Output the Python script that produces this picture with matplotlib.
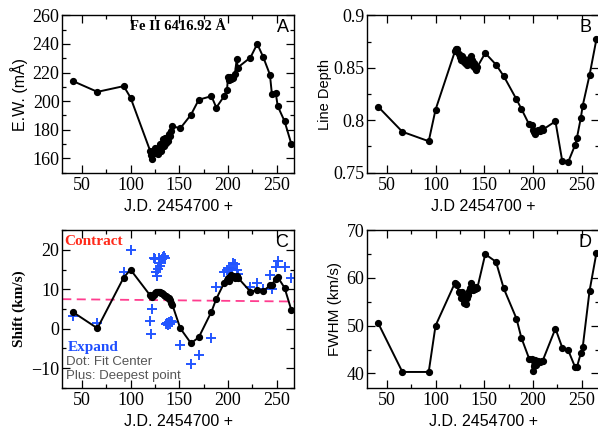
import matplotlib
matplotlib.use("Agg")
import matplotlib.pyplot as plt
from matplotlib.ticker import MultipleLocator, FuncFormatter

# Observation dates (J.D. - 2454700)
jd = [41, 66, 93, 100, 120, 121, 122, 124, 125, 126, 127, 128, 129, 130, 131,
      132, 133, 134, 135, 136, 137, 138, 139, 140, 141, 143, 151, 162, 170,
      183, 188, 196, 199, 200, 201, 202, 203, 205, 207, 209, 210, 223, 230,
      236, 243, 245, 249, 251, 258, 265]

# Equivalent width (mA)
ew = [214, 206.5, 210.5, 202.5, 165.5, 162.5, 159.5, 163.5, 167.5, 164, 166.5,
      163, 167, 170, 165.5, 168, 173.5, 168.5, 174, 170.5, 174.5, 172, 177,
      175.5, 179, 182.5, 181, 190.5, 201, 203.5, 195.5, 203.5, 208, 217, 215,
      217, 215.5, 216, 219, 229.5, 223.5, 230.5, 240, 231, 218.5, 205, 205.5,
      196.5, 186, 170]

# Line depth
depth = [0.813, 0.789, 0.780, 0.810, 0.866, 0.868, 0.868, 0.863, 0.860, 0.857,
         0.861, 0.856, 0.858, 0.855, 0.857, 0.853, 0.856, 0.855, 0.859, 0.861,
         0.857, 0.852, 0.855, 0.850, 0.848, 0.851, 0.864, 0.853, 0.842, 0.820,
         0.811, 0.796, 0.795, 0.791, 0.789, 0.787, 0.790, 0.791, 0.790, 0.793,
         0.791, 0.799, 0.761, 0.760, 0.776, 0.783, 0.802, 0.814, 0.843, 0.877]

# Line shift from the fitted centre (km/s)
shift_fit = [4.2, 0.1, 13.0, 15.0, 8.5, 8.2, 8.0, 8.5, 9.0, 9.2, 9.3, 9.4, 9.3,
             9.2, 9.0, 9.1, 8.8, 8.6, 8.4, 8.2, 8.0, 7.8, 7.9, 7.2, 6.5, 6.0,
             0.1, -3.7, -2.2, 4.3, 7.6, 11.6, 12.3, 13.0, 12.1, 13.2, 13.6,
             13.3, 13.0, 13.3, 13.0, 9.4, 9.8, 9.5, 11.0, 11.2, 12.6, 13.1,
             10.4, 4.7]

# Line shift from the deepest point of the profile (km/s)
shift_deep = [3.3, 1.4, 14.4, 20.0, 1.9, -1.3, 5.1, 18.0, 17.6, 14.5, 13.5,
              15.2, 18.0, 16.0, 16.8, 17.8, 18.3, 18.5, 18.0, 1.1, 1.5, 1.0,
              1.8, 1.3, 2.0, 1.6, -4.2, -9.0, -6.8, -2.3, 10.7, 14.5, 15.0,
              14.5, 15.5, 12.5, 15.2, 16.6, 16.5, 14.8, 13.8, 10.5, 11.6, 10.1,
              13.6, 10.0, 15.6, 17.2, 15.6, 13.0]

# Systemic velocity level (km/s) at the start and end of the time range
systemic_jd = [30, 268]
systemic = [7.5, 6.9]

# Full width at half maximum (km/s)
fwhm = [50.6, 40.3, 40.3, 50.0, 59.0, 58.7, 58.5, 57.0, 56.8, 55.8, 57.0, 56.2,
        54.8, 55.5, 54.6, 55.8, 56.5, 57.3, 57.8, 59.0, 58.0, 57.5, 58.0, 57.6,
        58.2, 58.0, 65.0, 63.4, 57.8, 51.5, 47.5, 43.1, 43.0, 40.4, 41.5, 42.8,
        41.8, 42.5, 42.4, 42.6, 42.7, 49.4, 45.4, 44.9, 41.4, 41.3, 44.2, 45.5,
        57.3, 65.2]

SERIF = "Liberation Serif"
SANS = "Liberation Sans"

fig = plt.figure(figsize=(5.98, 4.30), dpi=100)
W, H = 598.0, 430.0


def make_axes(left_px, top_px):
    w_px, h_px = 232.0, 157.4
    return fig.add_axes([left_px / W, (H - top_px - h_px) / H, w_px / W, h_px / H])


axA = make_axes(62.3, 15.3)
axB = make_axes(367.3, 15.3)
axC = make_axes(62.3, 230.3)
axD = make_axes(367.3, 230.3)


def style(ax, ylim, ymaj, ymin, yfmt=None):
    ax.set_xlim(30, 268)
    ax.set_ylim(*ylim)
    ax.xaxis.set_major_locator(MultipleLocator(50))
    ax.xaxis.set_minor_locator(MultipleLocator(25))
    ax.yaxis.set_major_locator(MultipleLocator(ymaj))
    ax.yaxis.set_minor_locator(MultipleLocator(ymin))
    ax.tick_params(which="both", direction="in", top=True, right=True,
                   width=0.9, colors="black")
    ax.tick_params(which="major", length=6, labelsize=13)
    ax.tick_params(axis="y", which="major", pad=2)
    ax.tick_params(axis="x", which="major", pad=3)
    ax.tick_params(which="minor", length=3)
    if yfmt is not None:
        ax.yaxis.set_major_formatter(yfmt)
    for lab in ax.get_xticklabels() + ax.get_yticklabels():
        lab.set_fontfamily(SERIF)
    for sp in ax.spines.values():
        sp.set_linewidth(1.0)


line_kw = dict(color="black", lw=1.4, marker="o", ms=4.2, mec="black",
               mfc="black", zorder=3)
label_kw = dict(fontfamily=SANS, fontsize=11.5)

# Panel A: equivalent width
axA.plot(jd, ew, **line_kw)
style(axA, (150, 260), 20, 10)
axA.set_ylabel("E.W. (mÅ)", labelpad=3, **label_kw)
axA.set_xlabel("J.D. 2454700 +", labelpad=4, **label_kw)
axA.text(0.50, 0.93, "Fe II 6416.92 Å", transform=axA.transAxes,
         fontfamily=SERIF, fontweight="bold", fontsize=10.5, ha="center", va="center")
axA.text(0.975, 0.92, "A", transform=axA.transAxes, fontfamily=SANS,
         fontsize=13, ha="right", va="center")

# Panel B: line depth
axB.plot(jd, depth, **line_kw)
style(axB, (0.75, 0.9), 0.05, 0.025,
      FuncFormatter(lambda v, p: f"{v:.2f}".rstrip("0").rstrip(".")))
axB.set_ylabel("Line Depth", fontfamily=SANS, fontsize=10.5, labelpad=1)
axB.set_xlabel("J.D 2454700 +", labelpad=4, **label_kw)
axB.text(0.965, 0.92, "B", transform=axB.transAxes, fontfamily=SANS,
         fontsize=13, ha="right", va="center")

# Panel C: line shift
axC.plot(systemic_jd, systemic, color="#ff3d8f", lw=1.3, ls=(0, (5, 3)), zorder=1)
axC.plot(jd, shift_deep, ls="none", marker="+", ms=7, mew=1.4,
         color="#2255ff", zorder=2)
axC.plot(jd, shift_fit, **line_kw)
style(axC, (-15, 25), 10, 5)
axC.set_ylabel("Shift (km/s)", fontfamily=SERIF, fontweight="bold",
               fontsize=11, labelpad=4)
axC.set_xlabel("J.D. 2454700 +", labelpad=4, **label_kw)
axC.text(0.975, 0.92, "C", transform=axC.transAxes, fontfamily=SANS,
         fontsize=13, ha="right", va="center")
axC.text(0.01, 0.93, "Contract", transform=axC.transAxes, fontfamily=SERIF,
         fontweight="bold", fontsize=11, color="#ff2a1a", ha="left", va="center")
axC.text(0.025, 0.255, "Expand", transform=axC.transAxes, fontfamily=SERIF,
         fontweight="bold", fontsize=11, color="#1f4fff", ha="left", va="center")
axC.text(0.015, 0.165, "Dot: Fit Center", transform=axC.transAxes,
         fontfamily=SANS, fontsize=9.5, color="#555555", ha="left", va="center")
axC.text(0.015, 0.075, "Plus: Deepest point", transform=axC.transAxes,
         fontfamily=SANS, fontsize=9.5, color="#555555", ha="left", va="center")

# Panel D: FWHM
axD.plot(jd, fwhm, **line_kw)
style(axD, (37, 70), 10, 5)
axD.set_ylabel("FWHM (km/s)", fontfamily=SANS, fontsize=11, labelpad=3)
axD.set_xlabel("J.D. 2454700 +", labelpad=4, **label_kw)
axD.text(0.965, 0.92, "D", transform=axD.transAxes, fontfamily=SANS,
         fontsize=13, ha="right", va="center")

fig.savefig("out.png", dpi=100)
